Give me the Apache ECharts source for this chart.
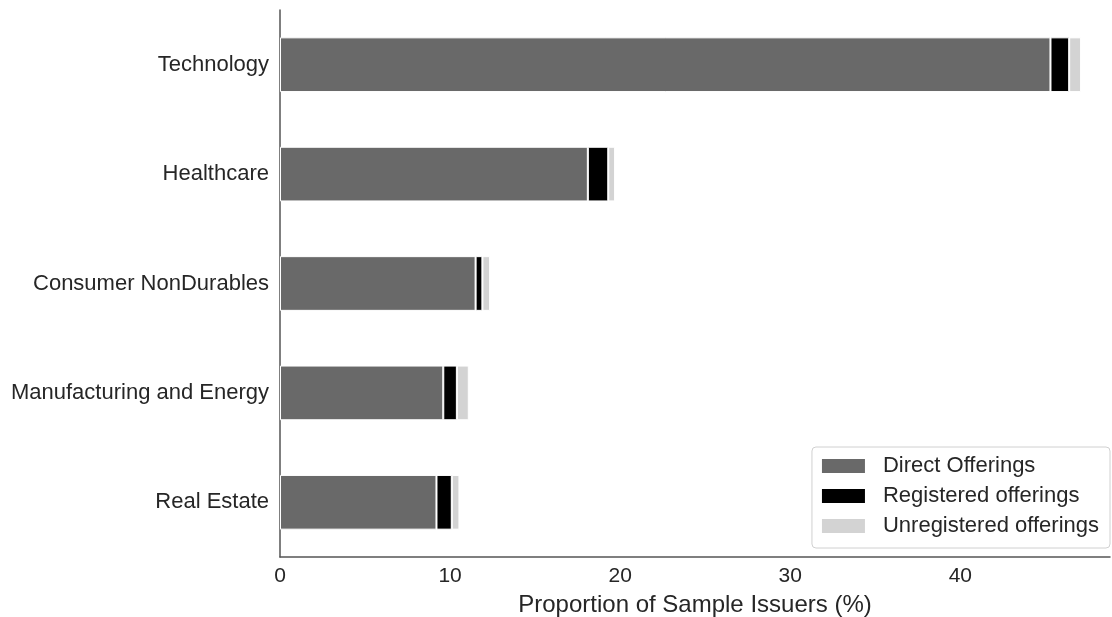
<!DOCTYPE html>
<html>
<head>
<meta charset="utf-8">
<script src="https://cdn.jsdelivr.net/npm/echarts@6/dist/echarts.min.js"></script>
<style>html,body{margin:0;padding:0;background:#fff;overflow:hidden;}#c{width:1112px;height:617px;}</style>
</head>
<body>
<div id="c"></div>
<script>
const categories = ["Technology", "Healthcare", "Consumer NonDurables", "Manufacturing and Energy", "Real Estate"];
const directOfferings = [45.3, 18.1, 11.5, 9.6, 9.2];
const registeredOfferings = [1.1, 1.2, 0.4, 0.8, 0.9];
const unregisteredOfferings = [0.7, 0.4, 0.45, 0.7, 0.45];
const xTicks = [0, 10, 20, 30, 40];

const font = "'Liberation Sans', Arial, sans-serif";
const chart = echarts.init(document.getElementById('c'));
function mk(name, data, color) {
  return {
    name: name, type: 'bar', stack: 'total', data: data, barCategoryGap: '50%',
    itemStyle: { color: color, borderColor: '#fff', borderWidth: 1 },
    emphasis: { disabled: true }
  };
}
chart.setOption({
  animation: false,
  textStyle: { fontFamily: font },
  grid: { left: 280, right: 2, top: 10, bottom: 60, containLabel: false, outerBoundsMode: 'none' },
  xAxis: {
    type: 'value', min: 0, max: 48.8, interval: 10,
    name: 'Proportion of Sample Issuers (%)', nameLocation: 'middle', nameGap: 36,
    nameTextStyle: { fontSize: 24, color: '#262626', fontFamily: font },
    axisLine: { show: true, lineStyle: { color: '#555', width: 1.5 } },
    axisTick: { show: false },
    splitLine: { show: false },
    axisLabel: { fontSize: 21, color: '#262626', margin: 9, fontFamily: font,
      formatter: v => xTicks.includes(v) ? String(v) : '' }
  },
  yAxis: {
    type: 'category', data: categories, inverse: true,
    axisLine: { show: true, lineStyle: { color: '#555', width: 1.5 } },
    axisTick: { show: false },
    axisLabel: { fontSize: 22, color: '#262626', margin: 11, fontFamily: font }
  },
  legend: {
    orient: 'vertical', right: 2, bottom: 69, icon: 'rect',
    itemWidth: 43, itemHeight: 14, itemGap: 8,
    padding: [8, 11, 11, 10],
    borderColor: '#d0d0d0', borderWidth: 1, borderRadius: 4,
    textStyle: { fontSize: 22, color: '#262626', fontFamily: font, padding: [0, 0, 0, 13] },
    data: ['Direct Offerings', 'Registered offerings', 'Unregistered offerings'],
    itemStyle: { borderWidth: 0 }
  },
  series: [
    mk('Direct Offerings', directOfferings, '#696969'),
    mk('Registered offerings', registeredOfferings, '#000000'),
    mk('Unregistered offerings', unregisteredOfferings, '#d3d3d3')
  ]
});
</script>
</body>
</html>
